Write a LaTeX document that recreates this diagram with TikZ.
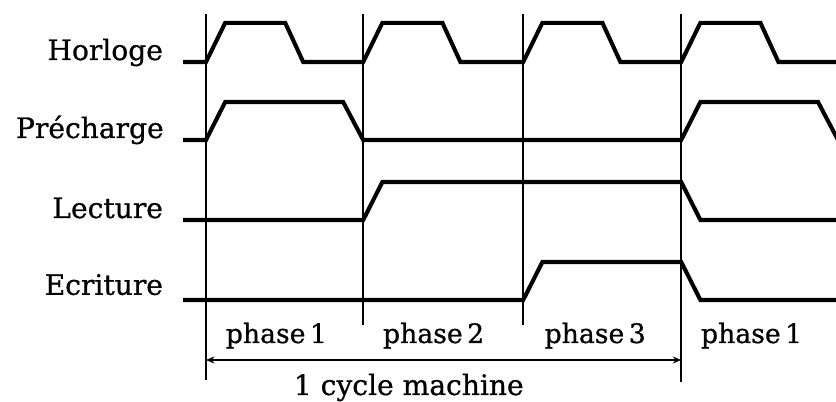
\documentclass[tikz,border=0pt]{standalone}
\usepackage{fontspec}
\setmainfont{DejaVu Serif}
\newfontfamily\chronofont{DejaVu Serif}[FakeBold=0.8]
\usetikzlibrary{arrows.meta}

\begin{document}
\begin{tikzpicture}[
  x=1cm,
  y=1cm,
  signal/.style={draw=black, line width=2.9pt},
  edgeline/.style={draw=black, line width=1.3pt},
  siglabel/.style={font=\chronofont\fontsize{20}{22}\selectfont, anchor=base east, inner sep=0pt},
  phaselabel/.style={font=\chronofont\fontsize{19}{21}\selectfont, anchor=base, inner sep=0pt},
  cyclespan/.style={draw=black, line width=0.9pt, {Stealth[length=6pt,width=5pt]}-{Stealth[length=6pt,width=5pt]}}
]
  \useasboundingbox (0,0) rectangle (20.9,10.05);

  % Clock edges (start of each phase)
  \draw[edgeline] (5.15,9.7) -- (5.15,0.55);
  \draw[edgeline] (9.08,9.7) -- (9.08,1.93);
  \draw[edgeline] (13.08,9.7) -- (13.08,1.93);
  \draw[edgeline] (17.03,9.7) -- (17.03,0.5);

  % Horloge
  \draw[signal] (4.58,8.5) -- (5.15,8.5) -- (5.63,9.48) -- (7.13,9.48) -- (7.58,8.5)
    -- (9.08,8.5) -- (9.56,9.48) -- (11.06,9.48) -- (11.51,8.5)
    -- (13.08,8.5) -- (13.56,9.48) -- (15.06,9.48) -- (15.51,8.5)
    -- (17.03,8.5) -- (17.51,9.48) -- (19.01,9.48) -- (19.46,8.5) -- (20.95,8.5);

  % Precharge
  \draw[signal] (4.58,6.55) -- (5.15,6.55) -- (5.63,7.5) -- (8.58,7.5) -- (9.08,6.55)
    -- (17.03,6.55) -- (17.51,7.5) -- (20.45,7.5) -- (20.95,6.55);

  % Lecture
  \draw[signal] (4.58,4.55) -- (9.08,4.55) -- (9.56,5.5) -- (17.03,5.5) -- (17.51,4.55) -- (20.95,4.55);

  % Ecriture
  \draw[signal] (4.58,2.55) -- (13.08,2.55) -- (13.56,3.5) -- (17.03,3.5) -- (17.51,2.55) -- (20.95,2.55);

  % Signal names
  \node[siglabel] (horloge) at (4.08,8.55) {Horloge};
  \node[siglabel] (precharge) at (4.1,6.6) {Précharge};
  \node[siglabel] (lecture) at (4.08,4.6) {Lecture};
  \node[siglabel] (ecriture) at (4.08,2.68) {Ecriture};

  % Phases
  \node[phaselabel] (phaseA) at (6.91,1.475) {phase\,1};
  \node[phaselabel] (phaseB) at (10.84,1.475) {phase\,2};
  \node[phaselabel] (phaseC) at (14.88,1.475) {phase\,3};
  \node[phaselabel] (phaseD) at (18.79,1.475) {phase\,1};

  % Machine cycle
  \coordinate (cyclestart) at (5.15,1.05);
  \coordinate (cycleend) at (17.03,1.05);
  \draw[cyclespan] (cyclestart) -- (cycleend);
  \node[phaselabel, font=\chronofont\fontsize{20}{22}\selectfont] (cycle) at (10.22,0.175) {1 cycle machine};

\end{tikzpicture}
\end{document}
